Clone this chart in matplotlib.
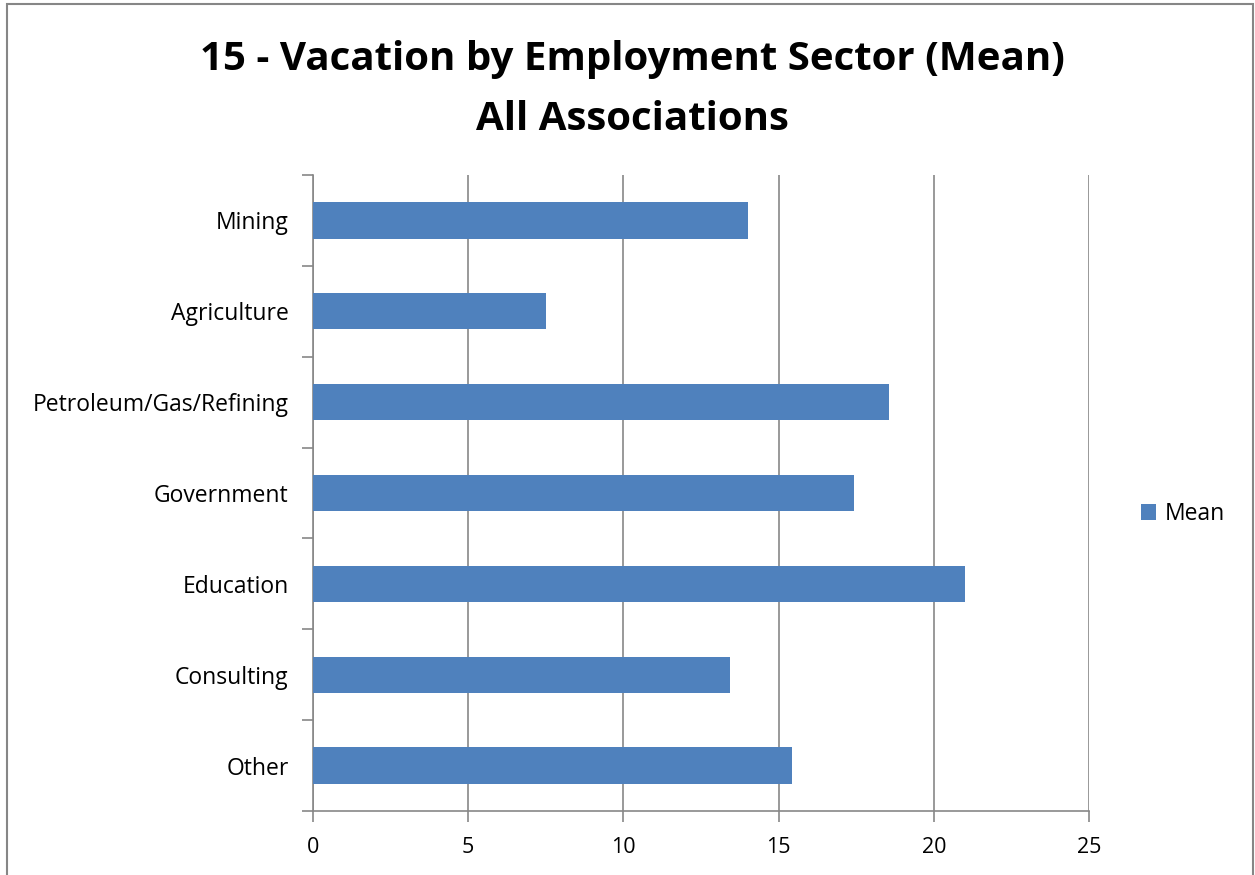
import numpy as np
import matplotlib
matplotlib.use("Agg")
import matplotlib.pyplot as plt
from matplotlib.patches import Rectangle

plt.rcParams['font.family'] = ['Open Sans', 'DejaVu Sans']

# data, top to bottom
sectors = ["Mining", "Agriculture", "Petroleum/Gas/Refining", "Government",
           "Education", "Consulting", "Other"]
means = [14.0, 7.5, 18.55, 17.43, 21.0, 13.43, 15.43]
x_ticks = [0, 5, 10, 15, 20, 25]

bar_color = "#4F81BD"
grid_color = "#878787"

fig = plt.figure(figsize=(12.55, 8.75), dpi=100)
ax = fig.add_axes([0.2494, 0.0731, 0.6183, 0.7269])

n = len(sectors)
ypos = np.arange(n)[::-1]
ax.barh(ypos, means, height=0.4, color=bar_color, label="Mean", zorder=3)

ax.set_xlim(0, 25)
ax.set_ylim(-0.5, n - 0.5)
ax.set_xticks(x_ticks)
ax.set_xticklabels([str(t) for t in x_ticks], fontsize=15.5)
ax.set_yticks(ypos)
ax.set_yticklabels(sectors, fontsize=16.5)
ax.set_yticks(np.arange(n + 1) - 0.5, minor=True)

ax.tick_params(axis='y', which='major', length=0, pad=17.5)
ax.tick_params(axis='y', which='minor', length=8, width=1.2, color=grid_color)
ax.tick_params(axis='x', length=8, width=1.2, color=grid_color, pad=11)

ax.grid(axis='x', color=grid_color, linewidth=1.2, zorder=0)
for side in ['top', 'right']:
    ax.spines[side].set_visible(False)
for side in ['left', 'bottom']:
    ax.spines[side].set_color(grid_color)
    ax.spines[side].set_linewidth(1.2)

fig.text(0.504, 0.92, "15 - Vacation by Employment Sector (Mean)",
         ha='center', va='baseline', fontsize=29, fontweight='bold')
fig.text(0.504, 0.8514, "All Associations",
         ha='center', va='baseline', fontsize=29, fontweight='bold')

ax.legend(loc='center left', bbox_to_anchor=(1.04, 0.467), frameon=False,
          fontsize=16.5, handlelength=0.65, handleheight=0.65, handletextpad=0.4)

# outer chart frame
fig.patches.append(Rectangle((0.0056, -0.01), 0.9925, 1.005, transform=fig.transFigure,
                             fill=False, edgecolor="#868686", linewidth=1.5))

fig.savefig("out.png", dpi=100)
